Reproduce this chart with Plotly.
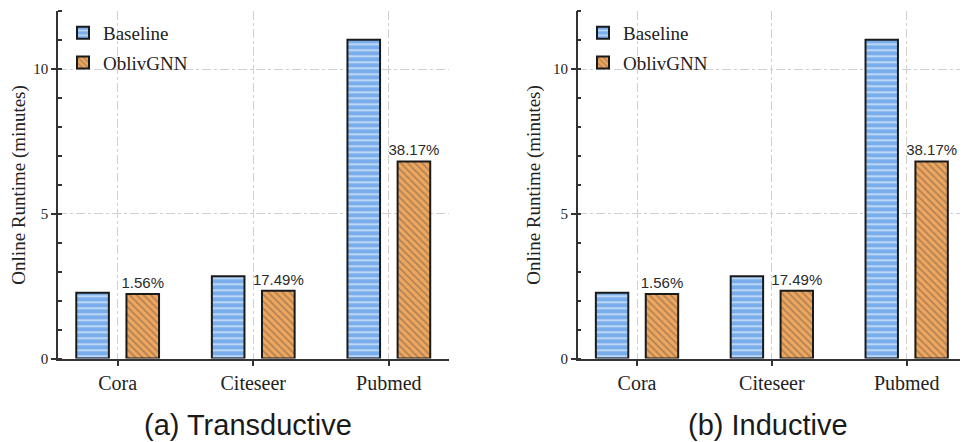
import plotly.graph_objects as go

categories = ["Cora", "Citeseer", "Pubmed"]
baseline_trans = [2.27, 2.84, 11.02]
oblivgnn_trans = [2.23, 2.34, 6.81]
labels_trans = ["1.56%", "17.49%", "38.17%"]
baseline_ind = [2.27, 2.84, 11.02]
oblivgnn_ind = [2.23, 2.34, 6.81]
labels_ind = ["1.56%", "17.49%", "38.17%"]
subtitles = ["(a) Transductive", "(b) Inductive"]
y_title = "Online Runtime (minutes)"

BLUE = "#78adeb"
ORANGE = "#f0a65c"
SERIF = "Liberation Serif, Times New Roman, serif"
SANS = "Liberation Sans, Arial, sans-serif"
AX = "#333333"

# page body has an 8px default margin; the figure is sized to fill the rest
OFF = 8
W, H = 968 - OFF, 442 - OFF


def fx(p):
    return (p - OFF) / W


def fy(p):
    return 1 - (p - OFF) / H


fig = go.Figure()

panels = [
    (baseline_trans, oblivgnn_trans, labels_trans, "x", "y", "legend", "1"),
    (baseline_ind, oblivgnn_ind, labels_ind, "x2", "y2", "legend2", "2"),
]
for base, obl, lab, xa, ya, lg, k in panels:
    fig.add_trace(go.Bar(
        x=categories, y=base, name="Baseline", xaxis=xa, yaxis=ya, legend=lg,
        legendgroup="b" + k,
        marker=dict(color=BLUE, line=dict(color="#1a1a1a", width=2),
                    pattern=dict(shape="-", fgcolor="white", size=6, solidity=0.35)),
    ))
    fig.add_trace(go.Bar(
        x=categories, y=obl, name="OblivGNN", xaxis=xa, yaxis=ya, legend=lg,
        legendgroup="o" + k,
        text=lab, textposition="outside", cliponaxis=False, constraintext="none",
        textfont=dict(family=SANS, size=15, color="#2a2a2a"),
        marker=dict(color=ORANGE, line=dict(color="#1a1a1a", width=2),
                    pattern=dict(shape="\\", fgcolor="#6e6254", size=5, solidity=0.35)),
    ))

xdoms = [[fx(58), fx(448.5)], [fx(577.7), fx(966)]]
ydom = [fy(358.5), fy(11.3)]
xr = [-0.44, 2.44]
yr = [0, 12]

layout = dict(
    width=W, height=H, margin=dict(l=0, r=0, t=0, b=0),
    paper_bgcolor="white", plot_bgcolor="white",
    barmode="group", bargap=0.26, bargroupgap=0.35,
    showlegend=True,
)

for i in range(2):
    xn = "xaxis" if i == 0 else "xaxis2"
    yn = "yaxis" if i == 0 else "yaxis2"
    xid = "x" if i == 0 else "x2"
    yid = "y" if i == 0 else "y2"
    layout[xn] = dict(
        domain=xdoms[i], anchor=yid, range=xr, type="category", automargin=False,
        showline=True, linecolor=AX, linewidth=2,
        ticks="outside", ticklen=5, tickwidth=1.5, tickcolor=AX,
        tickfont=dict(family=SERIF, size=20, color="#222222"),
        showgrid=True, gridcolor="#d0d0d0", griddash="dashdot", gridwidth=1,
        zeroline=False,
    )
    layout[yn] = dict(
        domain=ydom, anchor=xid, range=yr, automargin=False,
        tickmode="linear", tick0=0, dtick=5,
        showline=True, linecolor=AX, linewidth=1.5,
        ticks="outside", ticklen=5, tickwidth=1.5, tickcolor=AX,
        minor=dict(ticks="inside", dtick=1, ticklen=4, tickwidth=1.5, tickcolor=AX, showgrid=False),
        tickfont=dict(family=SERIF, size=15, color="#222222"),
        showgrid=True, gridcolor="#d0d0d0", griddash="dashdot", gridwidth=1,
        zeroline=False,
        title=dict(text=y_title, font=dict(family=SERIF, size=19, color="#222222"), standoff=7),
    )
    # right spine
    layout["yaxis%d" % (i + 3)] = dict(
        overlaying=yid, side="right", anchor=xid, range=yr, automargin=False,
        tickmode="linear", tick0=0, dtick=1,
        showline=True, linecolor=AX, linewidth=1.5,
        ticks="inside", ticklen=4, tickwidth=1.5, tickcolor=AX,
        showticklabels=False, showgrid=False, zeroline=False,
    )
    # top spine
    layout["xaxis%d" % (i + 3)] = dict(
        overlaying=xid, side="top", anchor=yid, range=xr, type="linear", automargin=False,
        tickvals=[0, 1, 2],
        showline=True, linecolor=AX, linewidth=1.5,
        ticks="inside", ticklen=5, tickwidth=1.5, tickcolor=AX,
        showticklabels=False, showgrid=False, zeroline=False,
    )

leg_common = dict(
    xanchor="left", yanchor="top", bgcolor="rgba(0,0,0,0)",
    font=dict(family=SERIF, size=19, color="#222222"),
    itemsizing="constant", traceorder="grouped", tracegroupgap=2,
)
layout["legend"] = dict(x=fx(63), y=fy(14), **leg_common)
layout["legend2"] = dict(x=fx(583), y=fy(14), **leg_common)

layout["annotations"] = [
    dict(text=subtitles[0], x=fx(248), y=fy(425), xref="paper", yref="paper",
         showarrow=False, font=dict(family=SANS, size=29, color="#1a1a1a"),
         xanchor="center", yanchor="middle"),
    dict(text=subtitles[1], x=fx(768), y=fy(425), xref="paper", yref="paper",
         showarrow=False, font=dict(family=SANS, size=29, color="#1a1a1a"),
         xanchor="center", yanchor="middle"),
]

fig.update_layout(**layout)
fig.write_html("out.html")
